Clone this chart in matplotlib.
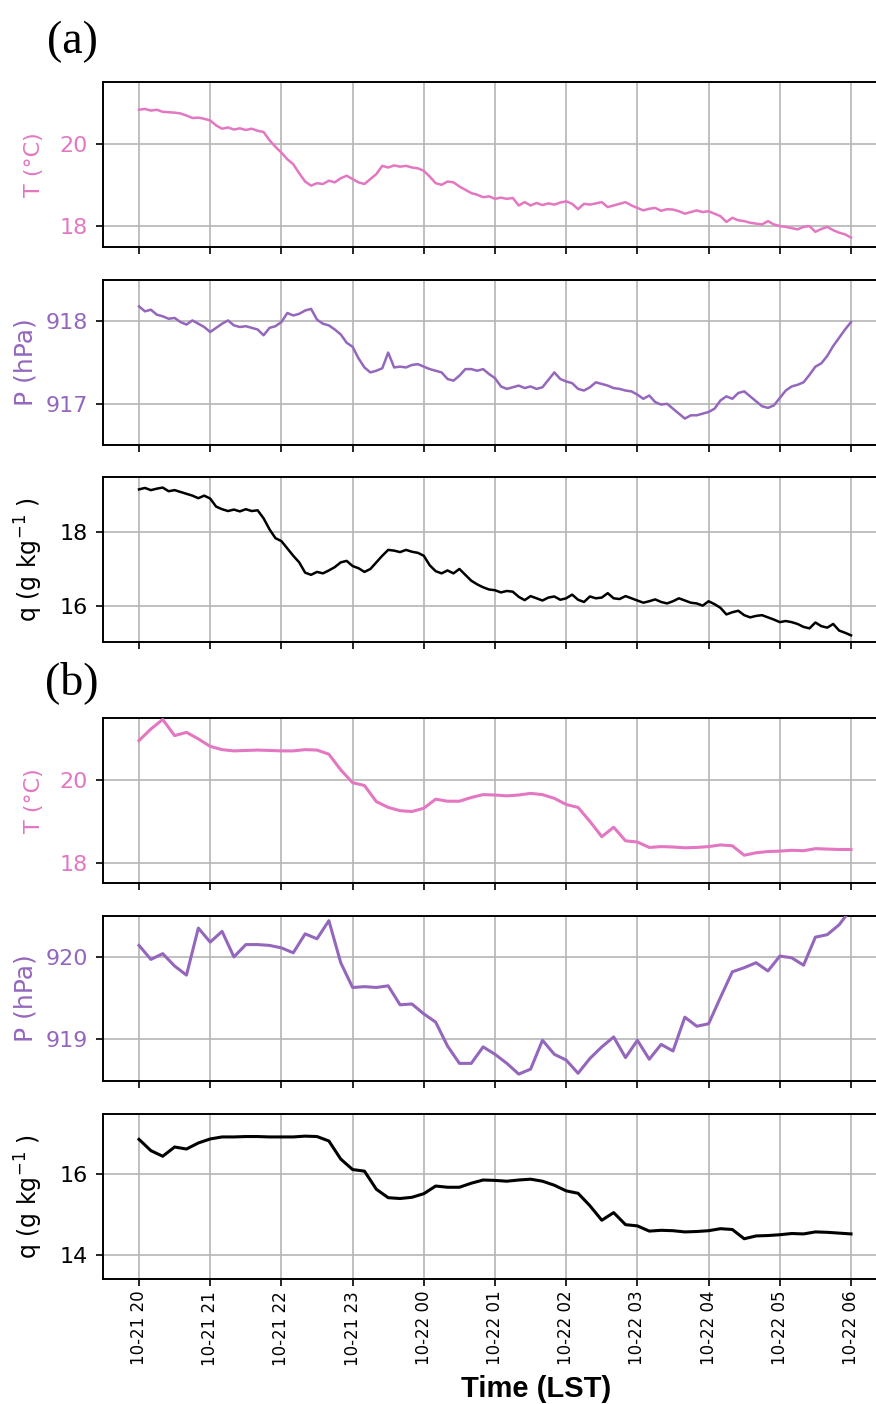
import matplotlib
matplotlib.use("Agg")
import matplotlib.pyplot as plt
import matplotlib.dates as mdates
import pandas as pd

# ---- data ----
# (a) 5-minute samples, 10-21 20:00 .. 10-22 06:00
t_a = pd.date_range("2024-10-21 20:00", "2024-10-22 06:00", freq="5min")
T_a = [20.82, 20.84, 20.80, 20.82, 20.77, 20.76, 20.75, 20.73, 20.68, 20.62, 20.63, 20.60,
       20.56, 20.44, 20.36, 20.39, 20.34, 20.37, 20.33, 20.36, 20.31, 20.28, 20.08, 19.92,
       19.78, 19.62, 19.50, 19.28, 19.08, 18.98, 19.04, 19.02, 19.10, 19.06, 19.16, 19.22,
       19.14, 19.06, 19.02, 19.14, 19.26, 19.46, 19.42, 19.47, 19.44, 19.46, 19.42, 19.40,
       19.34, 19.20, 19.04, 19.00, 19.08, 19.06, 18.96, 18.88, 18.80, 18.76, 18.70, 18.72,
       18.66, 18.69, 18.66, 18.68, 18.50, 18.58, 18.50, 18.56, 18.51, 18.55, 18.52, 18.57,
       18.60, 18.54, 18.41, 18.54, 18.52, 18.55, 18.58, 18.46, 18.50, 18.54, 18.58, 18.50,
       18.44, 18.38, 18.42, 18.44, 18.37, 18.41, 18.40, 18.36, 18.30, 18.34, 18.38, 18.34,
       18.36, 18.30, 18.24, 18.10, 18.20, 18.14, 18.12, 18.08, 18.06, 18.04, 18.12, 18.04,
       18.00, 17.98, 17.95, 17.92, 17.98, 18.00, 17.86, 17.93, 17.98, 17.90, 17.84, 17.80,
       17.72]
P_a = [918.18, 918.12, 918.14, 918.08, 918.06, 918.03, 918.04, 917.99, 917.96, 918.01, 917.97, 917.93,
       917.87, 917.92, 917.97, 918.01, 917.95, 917.93, 917.94, 917.92, 917.90, 917.83, 917.92, 917.94,
       917.99, 918.10, 918.07, 918.09, 918.13, 918.15, 918.02, 917.97, 917.95, 917.90, 917.84, 917.74,
       917.69, 917.55, 917.44, 917.38, 917.40, 917.43, 917.62, 917.44, 917.45, 917.44, 917.47, 917.48,
       917.45, 917.42, 917.40, 917.38, 917.30, 917.28, 917.34, 917.42, 917.42, 917.40, 917.42, 917.36,
       917.31, 917.21, 917.18, 917.20, 917.22, 917.19, 917.21, 917.18, 917.20, 917.29, 917.38, 917.30,
       917.27, 917.25, 917.18, 917.16, 917.20, 917.26, 917.24, 917.22, 917.19, 917.18, 917.16, 917.15,
       917.11, 917.06, 917.10, 917.02, 916.99, 917.00, 916.94, 916.88, 916.82, 916.86, 916.86, 916.88,
       916.90, 916.94, 917.04, 917.09, 917.06, 917.13, 917.15, 917.09, 917.03, 916.97, 916.95, 916.98,
       917.07, 917.16, 917.21, 917.23, 917.26, 917.35, 917.45, 917.49, 917.58, 917.70, 917.80, 917.90,
       917.99]
Q_a = [19.17, 19.21, 19.15, 19.19, 19.22, 19.12, 19.15, 19.10, 19.05, 19.00, 18.93, 19.00,
       18.92, 18.70, 18.63, 18.58, 18.62, 18.57, 18.63, 18.58, 18.60, 18.38, 18.08, 17.84,
       17.76, 17.56, 17.36, 17.18, 16.90, 16.84, 16.92, 16.88, 16.96, 17.05, 17.18, 17.22,
       17.08, 17.02, 16.92, 17.00, 17.18, 17.36, 17.52, 17.50, 17.46, 17.52, 17.47, 17.44,
       17.36, 17.10, 16.94, 16.88, 16.96, 16.88, 17.00, 16.84, 16.68, 16.58, 16.50, 16.44,
       16.42, 16.36, 16.40, 16.38, 16.24, 16.15, 16.26, 16.20, 16.14, 16.22, 16.25, 16.16,
       16.20, 16.30, 16.16, 16.10, 16.25, 16.20, 16.22, 16.34, 16.20, 16.18, 16.26, 16.20,
       16.14, 16.08, 16.12, 16.17, 16.10, 16.06, 16.12, 16.20, 16.14, 16.08, 16.06, 16.00,
       16.12, 16.04, 15.94, 15.76, 15.82, 15.86, 15.74, 15.68, 15.72, 15.74, 15.68, 15.62,
       15.55, 15.58, 15.55, 15.50, 15.42, 15.38, 15.54, 15.44, 15.40, 15.50, 15.32, 15.26,
       15.19]

# (b) 10-minute samples
t_b = pd.date_range("2024-10-21 20:00", "2024-10-22 06:00", freq="10min")
T_b = [20.96, 21.24, 21.47, 21.08, 21.16, 21.00, 20.82, 20.74, 20.71, 20.72, 20.73, 20.72,
       20.71, 20.71, 20.74, 20.73, 20.63, 20.25, 19.94, 19.87, 19.48, 19.34, 19.26, 19.24,
       19.32, 19.54, 19.49, 19.49, 19.58, 19.65, 19.64, 19.62, 19.64, 19.68, 19.65, 19.56,
       19.41, 19.34, 19.00, 18.63, 18.86, 18.53, 18.50, 18.37, 18.39, 18.38, 18.36, 18.37,
       18.39, 18.43, 18.41, 18.18, 18.24, 18.27, 18.28, 18.30, 18.29, 18.34, 18.33, 18.32,
       18.32]
P_b = [920.14, 919.97, 920.04, 919.89, 919.78, 920.35, 920.18, 920.31, 920.00, 920.15, 920.15, 920.14,
       920.11, 920.05, 920.28, 920.22, 920.44, 919.93, 919.63, 919.64, 919.63, 919.65, 919.42, 919.43,
       919.31, 919.21, 918.92, 918.71, 918.71, 918.91, 918.82, 918.71, 918.58, 918.64, 918.99, 918.82,
       918.75, 918.59, 918.77, 918.91, 919.03, 918.78, 918.99, 918.76, 918.94, 918.86, 919.27, 919.16,
       919.19, 919.51, 919.82, 919.87, 919.93, 919.83, 920.01, 919.99, 919.90, 920.24, 920.27, 920.39,
       920.58]
Q_b = [16.87, 16.59, 16.45, 16.68, 16.63, 16.78, 16.88, 16.93, 16.93, 16.94, 16.94, 16.93,
       16.93, 16.93, 16.95, 16.94, 16.83, 16.38, 16.12, 16.08, 15.63, 15.42, 15.40, 15.43,
       15.52, 15.71, 15.68, 15.68, 15.78, 15.86, 15.85, 15.83, 15.86, 15.88, 15.83, 15.73,
       15.59, 15.53, 15.22, 14.86, 15.05, 14.75, 14.72, 14.59, 14.61, 14.60, 14.57, 14.58,
       14.60, 14.65, 14.63, 14.40, 14.47, 14.48, 14.50, 14.53, 14.52, 14.57, 14.56, 14.54,
       14.52]

PINK = "#e377c2"
PURPLE = "#9467bd"

W, H = 876, 1404
fig = plt.figure(figsize=(W / 100, H / 100), dpi=100)

x_lo = pd.Timestamp("2024-10-21 19:30")
x_hi = pd.Timestamp("2024-10-22 06:30")
ax_left, ax_right = 103.4, 886.6

# (top px, times, values, colour, ylim, yticks, label, label x px, label size, linewidth)
panels = [
    (81.7, t_a, T_a, PINK, (17.5, 21.5), [18, 20], "T (°C)", 34, 16, 1.8),
    (280.0, t_a, P_a, PURPLE, (916.5, 918.5), [917, 918], "P (hPa)", 25, 18, 1.8),
    (477.3, t_a, Q_a, "black", (15.0, 19.5), [16, 18], r"q (g kg$^{-1}$ )", 29, 17, 1.8),
    (718.3, t_b, T_b, PINK, (17.5, 21.5), [18, 20], "T (°C)", 34, 16, 2.2),
    (915.7, t_b, P_b, PURPLE, (918.5, 920.5), [919, 920], "P (hPa)", 25, 18, 2.2),
    (1114.0, t_b, Q_b, "black", (13.4, 17.5), [14, 16], r"q (g kg$^{-1}$ )", 29, 17, 2.2),
]
ph = 165.0

for i, (top, tt, vals, col, ylim, yt, lab, lx, lsize, lw) in enumerate(panels):
    ax = fig.add_axes([ax_left / W, 1 - (top + ph) / H, (ax_right - ax_left) / W, ph / H])
    ax.plot(tt, vals, color=col, lw=lw, zorder=3)
    ax.set_xlim(x_lo, x_hi)
    ax.set_ylim(*ylim)
    ax.set_yticks(yt)
    ax.xaxis.set_major_locator(mdates.HourLocator())
    ax.xaxis.set_major_formatter(mdates.DateFormatter("%m-%d %H"))
    ax.grid(True, color="#b5b5b5", lw=1.2)
    ax.set_axisbelow(True)
    for s in ax.spines.values():
        s.set_linewidth(1.4)
    ax.tick_params(axis="both", length=5, width=1.2)
    ax.tick_params(axis="y", labelsize=16, labelcolor=col, pad=6)
    if i == len(panels) - 1:
        ax.tick_params(axis="x", labelsize=12, rotation=90)
    else:
        ax.tick_params(axis="x", labelbottom=False)
    fig.text(lx / W, 1 - (top + ph / 2) / H, lab, rotation=90, ha="center", va="center",
             color=col, fontsize=lsize)

fig.text(72 / W, 1 - 42 / H, "(a)", family="Liberation Serif", fontsize=33,
         ha="center", va="center")
fig.text(72 / W, 1 - 683 / H, "(b)", family="Liberation Serif", fontsize=33,
         ha="center", va="center")
fig.text(536 / W, 1 - 1389 / H, "Time (LST)", family="Liberation Sans", fontweight="bold",
         fontsize=21, ha="center", va="center")

fig.savefig("out.png", dpi=100)
